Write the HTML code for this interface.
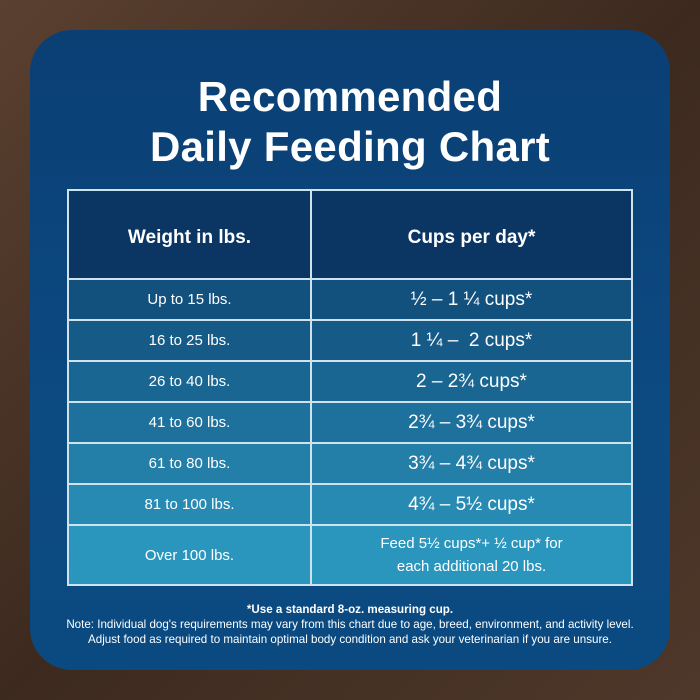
<!DOCTYPE html>
<html><head><style>
body{margin:0;width:700px;height:700px;overflow:hidden;background:linear-gradient(135deg,#5a4030,#3d2a1f 50%,#4e382a);font-family:"Liberation Sans",sans-serif;}
.card{position:absolute;left:30px;top:30px;width:640px;height:640px;border-radius:42px;background:linear-gradient(#0a3f74,#0c4a82 60%,#0b4a80);}
h1{position:absolute;left:0;width:700px;top:72px;margin:0;text-align:center;color:#fff;font-size:42px;line-height:50px;font-weight:bold;letter-spacing:0.3px;}
table{position:absolute;left:67px;top:189px;width:566px;border-collapse:collapse;color:#fff;text-align:center;}
td,th{border:2px solid #cfe3ee;padding:0;}
th{height:81px;background:#0b3562;font-size:19px;padding-top:6px;}
td{height:39px;font-size:15px;}
td+td{font-size:19px;}
</style></head><body>
<div class="card"></div>
<h1>Recommended<br>Daily Feeding Chart</h1>
<table>
<tr><th style="width:241px">Weight in lbs.</th><th>Cups per day*</th></tr>
<tr style="background:#12507e"><td>Up to 15 lbs.</td><td>½ – 1 ¼ cups*</td></tr>
<tr style="background:#165b88"><td>16 to 25 lbs.</td><td>1 ¼ –&nbsp; 2 cups*</td></tr>
<tr style="background:#1a6692"><td>26 to 40 lbs.</td><td>2 – 2¾ cups*</td></tr>
<tr style="background:#1e719c"><td>41 to 60 lbs.</td><td>2¾ – 3¾ cups*</td></tr>
<tr style="background:#237ea8"><td>61 to 80 lbs.</td><td>3¾ – 4¾ cups*</td></tr>
<tr style="background:#278ab3"><td>81 to 100 lbs.</td><td>4¾ – 5½ cups*</td></tr>
<tr style="background:#2b96bd"><td style="height:58px">Over 100 lbs.</td><td style="font-size:15px;line-height:23px">Feed 5½ cups*+ ½ cup* for<br>each additional 20 lbs.</td></tr>
</table>
<div style="position:absolute;left:0;width:700px;top:602px;text-align:center;color:#fff;font-size:11.6px;line-height:15px;">
<b>*Use a standard 8-oz. measuring cup.</b><br>Note: Individual dog's requirements may vary from this chart due to age, breed, environment, and activity level.<br>Adjust food as required to maintain optimal body condition and ask your veterinarian if you are unsure.</div>
</body></html>
